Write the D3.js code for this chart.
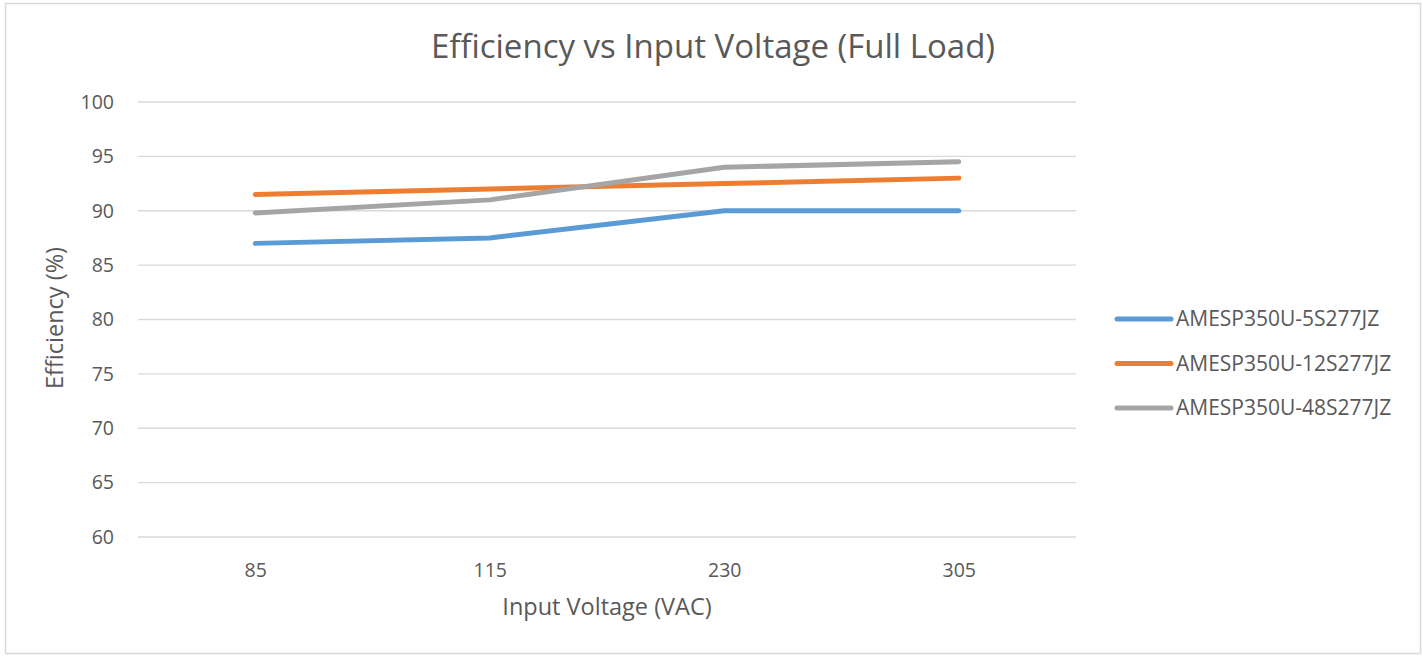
<!DOCTYPE html>
<html>
<head>
<meta charset="utf-8">
<style>
  body { margin: 0; background: #fff; }
  text { font-family: "Open Sans", "Liberation Sans", sans-serif; fill: #595959; }
</style>
</head>
<body>
<script src="https://cdn.jsdelivr.net/npm/d3@7"></script>
<script>
    // data
    const voltages = ["85", "115", "230", "305"];
    const seriesNames = ["AMESP350U-5S277JZ", "AMESP350U-12S277JZ", "AMESP350U-48S277JZ"];
    const eff5S = [87.0, 87.5, 90.0, 90.0];
    const eff12S = [91.5, 92.0, 92.5, 93.0];
    const eff48S = [89.8, 91.0, 94.0, 94.5];
    const yTicks = [60, 65, 70, 75, 80, 85, 90, 95, 100];
    const colors = ["#5B9BD5", "#ED7D31", "#A5A5A5"];

    const width = 1423, height = 656;
    const margin = {left: 138, right: 347, top: 102, bottom: 119};

    const svg = d3.select("body").append("svg")
        .attr("width", width)
        .attr("height", height);

    // outer chart border
    svg.append("rect")
        .attr("x", 5.5).attr("y", 3.5)
        .attr("width", 1415).attr("height", 650)
        .attr("fill", "#fff")
        .attr("stroke", "#d9d9d9")
        .attr("stroke-width", 1.5);

    const x = d3.scalePoint()
        .domain(voltages)
        .range([margin.left, width - margin.right])
        .padding(0.5);

    const y = d3.scaleLinear()
        .domain([60, 100])
        .range([height - margin.bottom, margin.top]);

    // gridlines
    svg.append("g")
        .selectAll("line")
        .data(yTicks)
        .join("line")
        .attr("x1", margin.left)
        .attr("x2", width - margin.right)
        .attr("y1", d => y(d))
        .attr("y2", d => y(d))
        .attr("stroke", "#d9d9d9")
        .attr("stroke-width", 1.3);

    // y axis labels
    const yAxis = svg.append("g")
        .attr("transform", `translate(${margin.left - 24},0)`)
        .call(d3.axisLeft(y).tickValues(yTicks).tickSize(0).tickPadding(0));
    yAxis.select(".domain").remove();
    yAxis.selectAll("text").style("font-size", "19.5px").attr("fill", "#595959");

    // x axis labels
    const xAxis = svg.append("g")
        .attr("transform", `translate(0,${height - margin.bottom + 26})`)
        .call(d3.axisBottom(x).tickSize(0).tickPadding(0));
    xAxis.select(".domain").remove();
    xAxis.selectAll("text").style("font-size", "19.5px").attr("fill", "#595959");

    const series = [eff5S, eff12S, eff48S];
    const line = d3.line()
        .x((d, i) => x(voltages[i]))
        .y(d => y(d));

    svg.append("g")
        .selectAll("path")
        .data(series)
        .join("path")
        .attr("d", d => line(d))
        .attr("fill", "none")
        .attr("stroke", (d, i) => colors[i])
        .attr("stroke-width", 5)
        .attr("stroke-linecap", "round")
        .attr("stroke-linejoin", "round");

    // title
    svg.append("text")
        .attr("x", 713)
        .attr("y", 58)
        .attr("text-anchor", "middle")
        .style("font-size", "33px")
        .text("Efficiency vs Input Voltage (Full Load)");

    // axis titles
    svg.append("text")
        .attr("x", 607)
        .attr("y", 615)
        .attr("text-anchor", "middle")
        .style("font-size", "23.5px")
        .text("Input Voltage (VAC)");

    svg.append("text")
        .attr("transform", "translate(63,318) rotate(-90)")
        .attr("text-anchor", "middle")
        .style("font-size", "23.5px")
        .text("Efficiency (%)");

    // legend
    const legend = svg.append("g")
        .selectAll("g")
        .data(seriesNames)
        .join("g")
        .attr("transform", (d, i) => `translate(1117,${319 + i * 44.5})`);

    legend.append("line")
        .attr("x1", 0).attr("x2", 54)
        .attr("stroke", (d, i) => colors[i])
        .attr("stroke-width", 5)
        .attr("stroke-linecap", "round");

    legend.append("text")
        .attr("x", 59)
        .attr("dy", "0.35em")
        .style("font-size", "21px")
        .text(d => d);
</script>
</body>
</html>
